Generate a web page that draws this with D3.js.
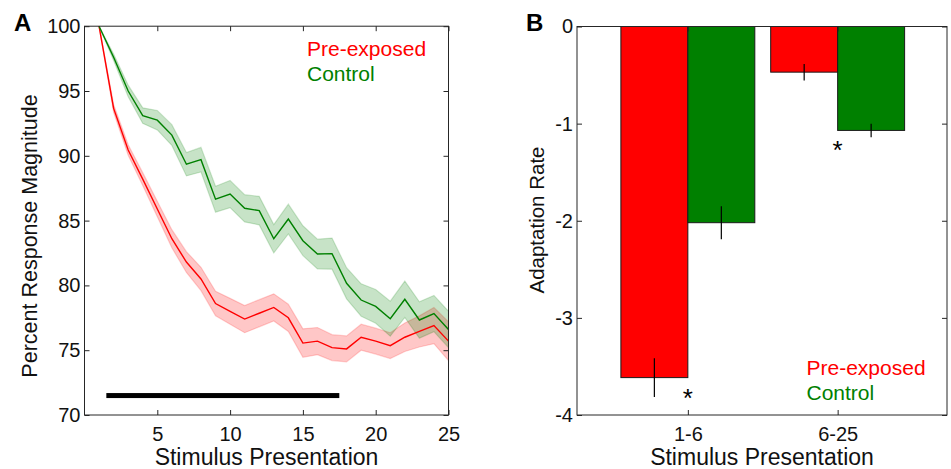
<!DOCTYPE html>
<html>
<head>
<meta charset="utf-8">
<script src="https://cdn.jsdelivr.net/npm/d3@7"></script>
<style>
  body { margin: 0; background: #fff; }
  svg { display: block; font-family: "Liberation Sans", Arial, sans-serif; }
</style>
</head>
<body>
<svg id="chart" width="951" height="469"></svg>
<script>
// ---------- DATA ----------
const presentation = d3.range(1, 26);
const preMean = [100, 93.66, 90.45, 88.2, 85.9, 83.6, 81.8, 80.5, 78.6, 78.0, 77.4, 77.85, 78.3, 77.5, 75.55, 75.7, 75.2, 75.1, 76.0, 75.7, 75.35, 76.0, 76.45, 76.9, 75.7];
const preSem  = [0, 0.3, 0.4, 0.5, 0.6, 0.7, 0.8, 0.9, 0.95, 1.0, 1.05, 1.05, 1.05, 1.05, 1.1, 1.05, 1.0, 1.0, 1.0, 1.0, 1.0, 1.1, 1.2, 1.4, 1.5];
const ctlMean = [100, 97.6, 95.0, 93.1, 92.75, 91.6, 89.35, 89.7, 86.65, 87.05, 85.95, 85.77, 83.6, 85.12, 83.45, 82.42, 82.45, 80.16, 78.87, 78.38, 77.43, 78.93, 77.33, 77.83, 76.6];
const ctlSem  = [0, 0.25, 0.45, 0.6, 0.75, 0.8, 0.9, 0.95, 1.0, 1.05, 1.05, 1.1, 1.1, 1.15, 1.15, 1.15, 1.2, 1.2, 1.25, 1.3, 1.35, 1.4, 1.4, 1.4, 1.4];
const barSpan = [1.5, 17.5];   // black bar extent (stimulus presentations)
const barLevel = 71.5;

const xTicksA = [5, 10, 15, 20, 25];
const yTicksA = [70, 75, 80, 85, 90, 95, 100];

const groups = ["1-6", "6-25"];
const preRate = [-3.615, -0.47];
const preRateErr = [0.2, 0.085];
const ctlRate = [-2.02, -1.07];
const ctlRateErr = [0.17, 0.07];
const yTicksB = [0, -1, -2, -3, -4];
const starLevels = [-3.77, -1.22];   // significance marks (at group centre)

const seriesNames = ["Pre-exposed", "Control"];
const RED = "#ff0000", GREEN = "#008000", AX = "#262626";

// ---------- SETUP ----------
const svg = d3.select("#chart");
const fs = 20;

function boxAxes(g, x, y, xt, yt, xfmt, yfmt) {
  const [x0, x1] = x.range(), [y0, y1] = y.range();
  g.append("g").attr("transform", `translate(0,${y0})`)
    .call(d3.axisBottom(x).tickValues(xt).tickSizeInner(-5).tickSizeOuter(0).tickPadding(12).tickFormat(xfmt))
    .call(s => s.select(".domain").remove());
  g.append("g").attr("transform", `translate(0,${y1})`)
    .call(d3.axisTop(x).tickValues(xt).tickSizeInner(-5).tickSizeOuter(0).tickFormat(""))
    .call(s => s.select(".domain").remove());
  g.append("g").attr("transform", `translate(${x0},0)`)
    .call(d3.axisLeft(y).tickValues(yt).tickSizeInner(-5).tickSizeOuter(0).tickPadding(4).tickFormat(yfmt))
    .call(s => s.select(".domain").remove());
  g.append("g").attr("transform", `translate(${x1},0)`)
    .call(d3.axisRight(y).tickValues(yt).tickSizeInner(-5).tickSizeOuter(0).tickFormat(""))
    .call(s => s.select(".domain").remove());
  g.selectAll(".tick line").attr("stroke", AX);
  g.selectAll(".tick text").attr("font-size", fs).attr("fill", "#111").attr("font-family", "Liberation Sans, Arial, sans-serif");
  g.append("rect").attr("x", x0).attr("y", y1).attr("width", x1 - x0).attr("height", y0 - y1)
    .attr("fill", "none").attr("stroke", AX).attr("stroke-width", 1);
}

// ---------- PANEL A ----------
const xA = d3.scaleLinear().domain([0, 25]).range([84.5, 448.5]);
const yA = d3.scaleLinear().domain([70, 100]).range([415, 26.2]);
const gA = svg.append("g");

const bandA = (mean, sem) => d3.area()
  .x((d, i) => xA(presentation[i]))
  .y0((d, i) => yA(mean[i] - sem[i]))
  .y1((d, i) => yA(mean[i] + sem[i]));
const lineA = mean => d3.line().x((d, i) => xA(presentation[i])).y((d, i) => yA(mean[i]));

[[preMean, preSem, RED], [ctlMean, ctlSem, GREEN]].forEach(([m, s, c]) => {
  gA.append("path").datum(presentation).attr("d", bandA(m, s))
    .attr("fill", c).attr("fill-opacity", 0.22)
    .attr("stroke", c).attr("stroke-opacity", 0.18).attr("stroke-width", 1.2);
});
[[preMean, RED], [ctlMean, GREEN]].forEach(([m, c]) => {
  gA.append("path").datum(presentation).attr("d", lineA(m))
    .attr("fill", "none").attr("stroke", c).attr("stroke-width", 1.4);
});

gA.append("rect").attr("x", xA(barSpan[0])).attr("width", xA(barSpan[1]) - xA(barSpan[0]))
  .attr("y", yA(barLevel) - 2.5).attr("height", 5).attr("fill", "#000");

boxAxes(gA, xA, yA, xTicksA, yTicksA, d => String(d), d => String(d));

gA.append("text").attr("x", 266.5).attr("y", 465).attr("text-anchor", "middle")
  .attr("font-size", 23).attr("fill", "#111").text("Stimulus Presentation");
gA.append("text").attr("transform", "translate(37,236) rotate(-90)").attr("text-anchor", "middle")
  .attr("font-size", 21.5).attr("fill", "#111").text("Percent Response Magnitude");
gA.append("text").attr("x", 307).attr("y", 56).attr("font-size", 21).attr("fill", RED).text(seriesNames[0]);
gA.append("text").attr("x", 307).attr("y", 81).attr("font-size", 21).attr("fill", GREEN).text(seriesNames[1]);
svg.append("text").attr("x", 14).attr("y", 31).attr("font-size", 24).attr("font-weight", "bold").text("A");

// ---------- PANEL B ----------
const xB = d3.scaleLinear().domain([0.26, 2.73]).range([577, 947]);
const yB = d3.scaleLinear().domain([-4, 0]).range([415, 26.5]);
const gB = svg.append("g");
const bw = 0.447;

const barsB = [];
groups.forEach((g, i) => {
  barsB.push({ c: i + 1, off: -1, v: preRate[i], e: preRateErr[i], col: RED });
  barsB.push({ c: i + 1, off: 0, v: ctlRate[i], e: ctlRateErr[i], col: GREEN });
});
gB.selectAll("rect.bar").data(barsB).join("rect").attr("class", "bar")
  .attr("x", d => xB(d.c + d.off * bw))
  .attr("width", d => xB(d.c + (d.off + 1) * bw) - xB(d.c + d.off * bw))
  .attr("y", yB(0))
  .attr("height", d => yB(d.v) - yB(0))
  .attr("fill", d => d.col).attr("stroke", "#1a1a1a").attr("stroke-width", 1);
gB.selectAll("line.err").data(barsB).join("line").attr("class", "err")
  .attr("x1", d => xB(d.c + (d.off + 0.5) * bw)).attr("x2", d => xB(d.c + (d.off + 0.5) * bw))
  .attr("y1", d => yB(d.v - d.e)).attr("y2", d => yB(d.v + d.e))
  .attr("stroke", "#000").attr("stroke-width", 1.2);

boxAxes(gB, xB, yB, [1, 2], yTicksB, d => groups[d - 1], d => String(d));

gB.selectAll("text.star").data(starLevels).join("text").attr("class", "star")
  .attr("x", (d, i) => xB(i + 1)).attr("y", d => yB(d) + 14)
  .attr("text-anchor", "middle").attr("font-size", 26).attr("fill", "#000").text("*");

gB.append("text").attr("x", 762).attr("y", 465).attr("text-anchor", "middle")
  .attr("font-size", 23).attr("fill", "#111").text("Stimulus Presentation");
gB.append("text").attr("transform", "translate(544,220) rotate(-90)").attr("text-anchor", "middle")
  .attr("font-size", 20.5).attr("fill", "#111").text("Adaptation Rate");
gB.append("text").attr("x", 806.5).attr("y", 375).attr("font-size", 21).attr("fill", RED).text(seriesNames[0]);
gB.append("text").attr("x", 806.5).attr("y", 400).attr("font-size", 21).attr("fill", GREEN).text(seriesNames[1]);
svg.append("text").attr("x", 526).attr("y", 31).attr("font-size", 24).attr("font-weight", "bold").text("B");
</script>
</body>
</html>
